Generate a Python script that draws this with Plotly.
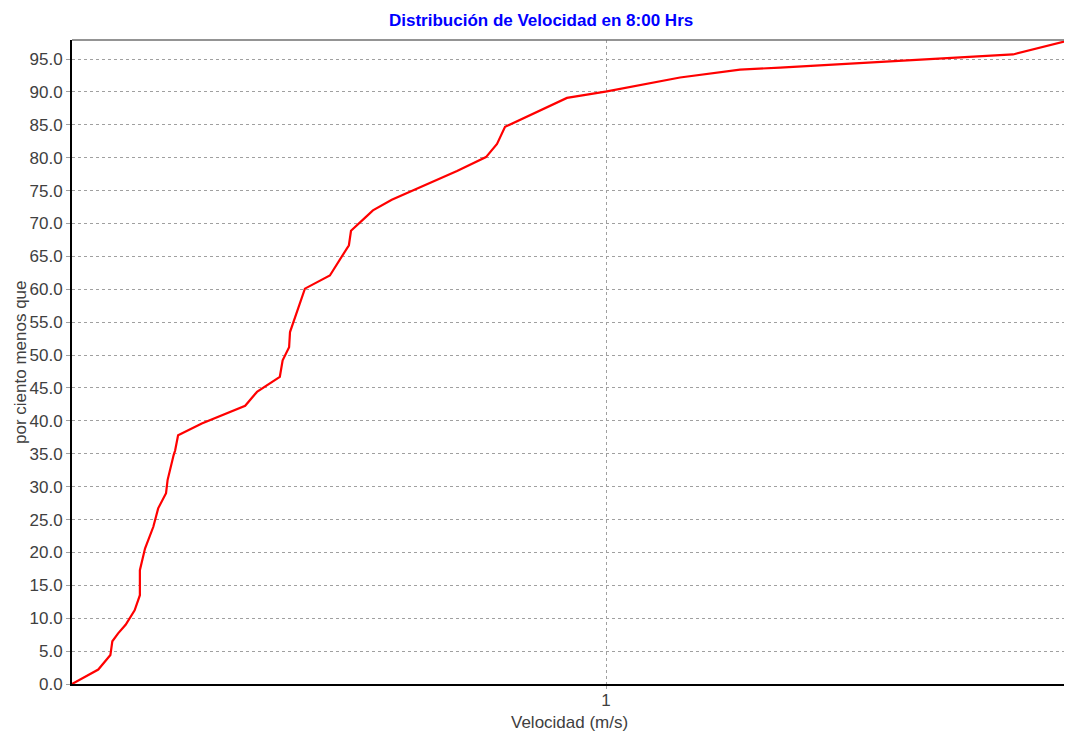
import plotly.graph_objects as go
import math

# Data (velocity in m/s, cumulative percent)
velocidad = [0.100, 0.106, 0.112, 0.118, 0.119, 0.122, 0.126, 0.131, 0.134, 0.134,
             0.137, 0.142, 0.145, 0.150, 0.151, 0.155, 0.156, 0.158, 0.175, 0.211,
             0.222, 0.245, 0.248, 0.255, 0.256, 0.273, 0.304, 0.330, 0.333, 0.354,
             0.366, 0.397, 0.443, 0.526, 0.596, 0.612, 0.625, 0.647, 0.845, 1.004,
             1.209, 1.376, 1.782, 2.118, 5.783, 7.393]
porcentaje = [0.0, 1.1, 2.2, 4.4, 6.5, 7.7, 9.0, 11.2, 13.5, 17.3,
              20.6, 23.9, 26.7, 29.0, 31.0, 34.8, 35.5, 37.8, 39.6, 42.3,
              44.4, 46.7, 49.2, 51.2, 53.5, 60.1, 62.1, 66.7, 68.9, 70.9,
              72.0, 73.6, 75.3, 78.0, 80.1, 81.3, 82.1, 84.7, 89.1, 90.1,
              91.3, 92.2, 93.4, 93.7, 95.7, 97.9]
y_ticks = [0, 5, 10, 15, 20, 25, 30, 35, 40, 45, 50, 55, 60, 65, 70, 75, 80, 85, 90, 95]
x_ticks = [1]

titulo = "Distribución de Velocidad en 8:00 Hrs"
x_titulo = "Velocidad (m/s)"
y_titulo = "por ciento menos que"

fig = go.Figure()
fig.add_trace(go.Scatter(
    x=velocidad, y=porcentaje, mode="lines",
    line=dict(color="#FF0000", width=2.2), showlegend=False, hoverinfo="x+y"))

font_fam = "Liberation Sans, Arial, sans-serif"
txt_col = "#404040"
# page has an 8px body margin, so the figure is 8px smaller and margins shifted
fig.update_layout(
    width=1064, height=730,
    margin=dict(l=64, r=2, t=32, b=54),
    paper_bgcolor="white", plot_bgcolor="white",
    font=dict(family=font_fam, size=17, color=txt_col),
    annotations=[
        dict(text=titulo, xref="paper", yref="paper", x=0.47, y=1.0,
             yshift=8, xanchor="center", yanchor="bottom", showarrow=False,
             font=dict(family=font_fam, size=17, color="#0000FF", weight="bold")),
        dict(text=y_titulo, xref="paper", yref="paper", x=0, y=0.5,
             xshift=-52, textangle=-90, xanchor="center", yanchor="middle",
             showarrow=False, font=dict(family=font_fam, size=17, color=txt_col)),
        dict(text=x_titulo, xref="paper", yref="paper", x=0.4985, y=0,
             yshift=-38, xanchor="center", yanchor="middle",
             showarrow=False, font=dict(family=font_fam, size=17, color=txt_col)),
    ],
    shapes=[
        dict(type="line", xref="paper", yref="paper", x0=0, x1=1, y0=1, y1=1,
             line=dict(color="#707070", width=1.5)),
    ],
)
fig.update_xaxes(
    type="log", automargin=False,
    range=[math.log10(velocidad[0]), math.log10(velocidad[-1])],
    tickvals=x_ticks, ticktext=[str(v) for v in x_ticks],
    showgrid=True, gridcolor="#A0A0A0", griddash="3px,3px", gridwidth=1,
    showline=True, linecolor="black", linewidth=2,
    ticks="outside", ticklen=3, tickcolor="#A0A0A0",
    ticklabelstandoff=-3,
    zeroline=False,
    tickfont=dict(size=17, color=txt_col),
)
fig.update_yaxes(
    automargin=False,
    range=[0, porcentaje[-1]],
    tickvals=y_ticks, ticktext=[f"{v:.1f}" for v in y_ticks],
    showgrid=True, gridcolor="#A0A0A0", griddash="3px,3px", gridwidth=1,
    showline=True, linecolor="black", linewidth=2,
    ticks="outside", ticklen=4, tickcolor="#A0A0A0",
    zeroline=False,
    tickfont=dict(size=17, color=txt_col),
)

fig.write_html("out.html")
